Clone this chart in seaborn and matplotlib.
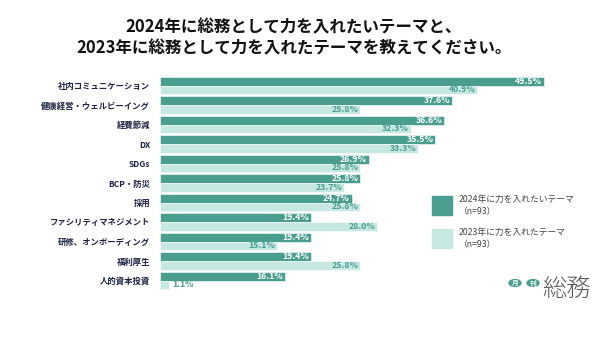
import matplotlib
matplotlib.use("Agg")
import matplotlib.pyplot as plt
import seaborn as sns
import pandas as pd
from matplotlib.patches import Rectangle, Circle

categories = ["社内コミュニケーション", "健康経営・ウェルビーイング", "経費節減", "DX", "SDGs",
              "BCP・防災", "採用", "ファシリティマネジメント", "研修、オンボーディング", "福利厚生", "人的資本投資"]
values_2024 = [49.5, 37.6, 36.6, 35.5, 26.9, 25.8, 24.7, 19.4, 19.4, 19.4, 16.1]
values_2023 = [40.9, 25.8, 32.3, 33.3, 25.8, 23.7, 25.8, 28.0, 15.1, 25.8, 1.1]
series = ["2024年に力を入れたいテーマ", "2023年に力を入れたテーマ"]
legend_labels = ["2024年に力を入れたいテーマ\n（n=93）", "2023年に力を入れたテーマ\n（n=93）"]
title = "2024年に総務として力を入れたいテーマと、\n2023年に総務として力を入れたテーマを教えてください。"

DARK = "#4a9e90"
LIGHT = "#c6e7e2"
NAVY = "#1c2340"

sns.set_theme(style="white")
plt.rcParams['font.family'] = ['Noto Sans CJK JP', 'DejaVu Sans']

df = pd.DataFrame({
    "cat": categories * 2,
    "val": values_2024 + values_2023,
    "series": [series[0]] * len(categories) + [series[1]] * len(categories),
})

fig = plt.figure(figsize=(6, 3.38), dpi=100)
top_px, bot_px = 75.75, 290.25
ax = fig.add_axes([160/600, 1 - bot_px/338, 400/600, (bot_px - top_px)/338])
sns.barplot(data=df, y="cat", x="val", hue="series", order=categories, hue_order=series,
            palette=[DARK, LIGHT], width=0.9, ax=ax, legend=False,
            edgecolor="white", linewidth=0.4, saturation=1)
ax.set_xlim(0, 400/7.76)
ax.set_ylim(len(categories) - 0.5, -0.5)
ax.set_xlabel("")
ax.set_ylabel("")
ax.set_xticks([])
for s in ax.spines.values():
    s.set_visible(False)
ax.tick_params(axis="y", length=0, pad=7)
for lbl in ax.get_yticklabels():
    lbl.set_fontsize(6.0)
    lbl.set_fontweight("bold")
    lbl.set_color(NAVY)

# value labels
for ci, (cont, vals) in enumerate(zip(ax.containers, [values_2024, values_2023])):
    for bar, v in zip(cont.patches, vals):
        yc = bar.get_y() + bar.get_height() / 2
        if ci == 0:
            ax.text(v - 0.25, yc, f"{v:.1f}%", ha="right", va="center", fontsize=6.3,
                    color="white", fontweight="bold")
        else:
            if v < 5:
                ax.text(v + 0.5, yc, f"{v:.1f}%", ha="left", va="center", fontsize=6.3,
                        color=DARK, fontweight="bold")
            else:
                ax.text(v - 0.25, yc, f"{v:.1f}%", ha="right", va="center", fontsize=6.3,
                        color=DARK, fontweight="bold")

# title
fig.text(294/600, 1 - 38/338, title, ha="center", va="center", fontsize=11.9,
         fontweight="bold", color="#111111", linespacing=1.2)

# legend
for i, (col, lab) in enumerate(zip([DARK, LIGHT], legend_labels)):
    y0 = 196 + i * 33
    fig.patches.append(Rectangle((432/600, 1 - (y0 + 19)/338), 20/600, 19/338,
                                 transform=fig.transFigure, color=col))
    fig.text(459/600, 1 - (y0 - 1)/338, lab, ha="left", va="top", fontsize=6.3,
             color="#444444", linespacing=1.45)

# logo
for xc in [515, 533]:
    fig.patches.append(Circle((xc/600, 1 - 283/338), 6/600, transform=fig.transFigure,
                              color=DARK))
for xc, ch in [(515, "月"), (533, "刊")]:
    fig.text(xc/600, 1 - 283/338, ch, ha="center", va="center", fontsize=4.8,
             color="white", fontweight="bold")
fig.text(542/600, 1 - 289/338, "総務", ha="left", va="center", fontsize=17.5,
         color="#5a5a5a", fontweight="light")

fig.savefig("out.png", dpi=100, facecolor="white")
